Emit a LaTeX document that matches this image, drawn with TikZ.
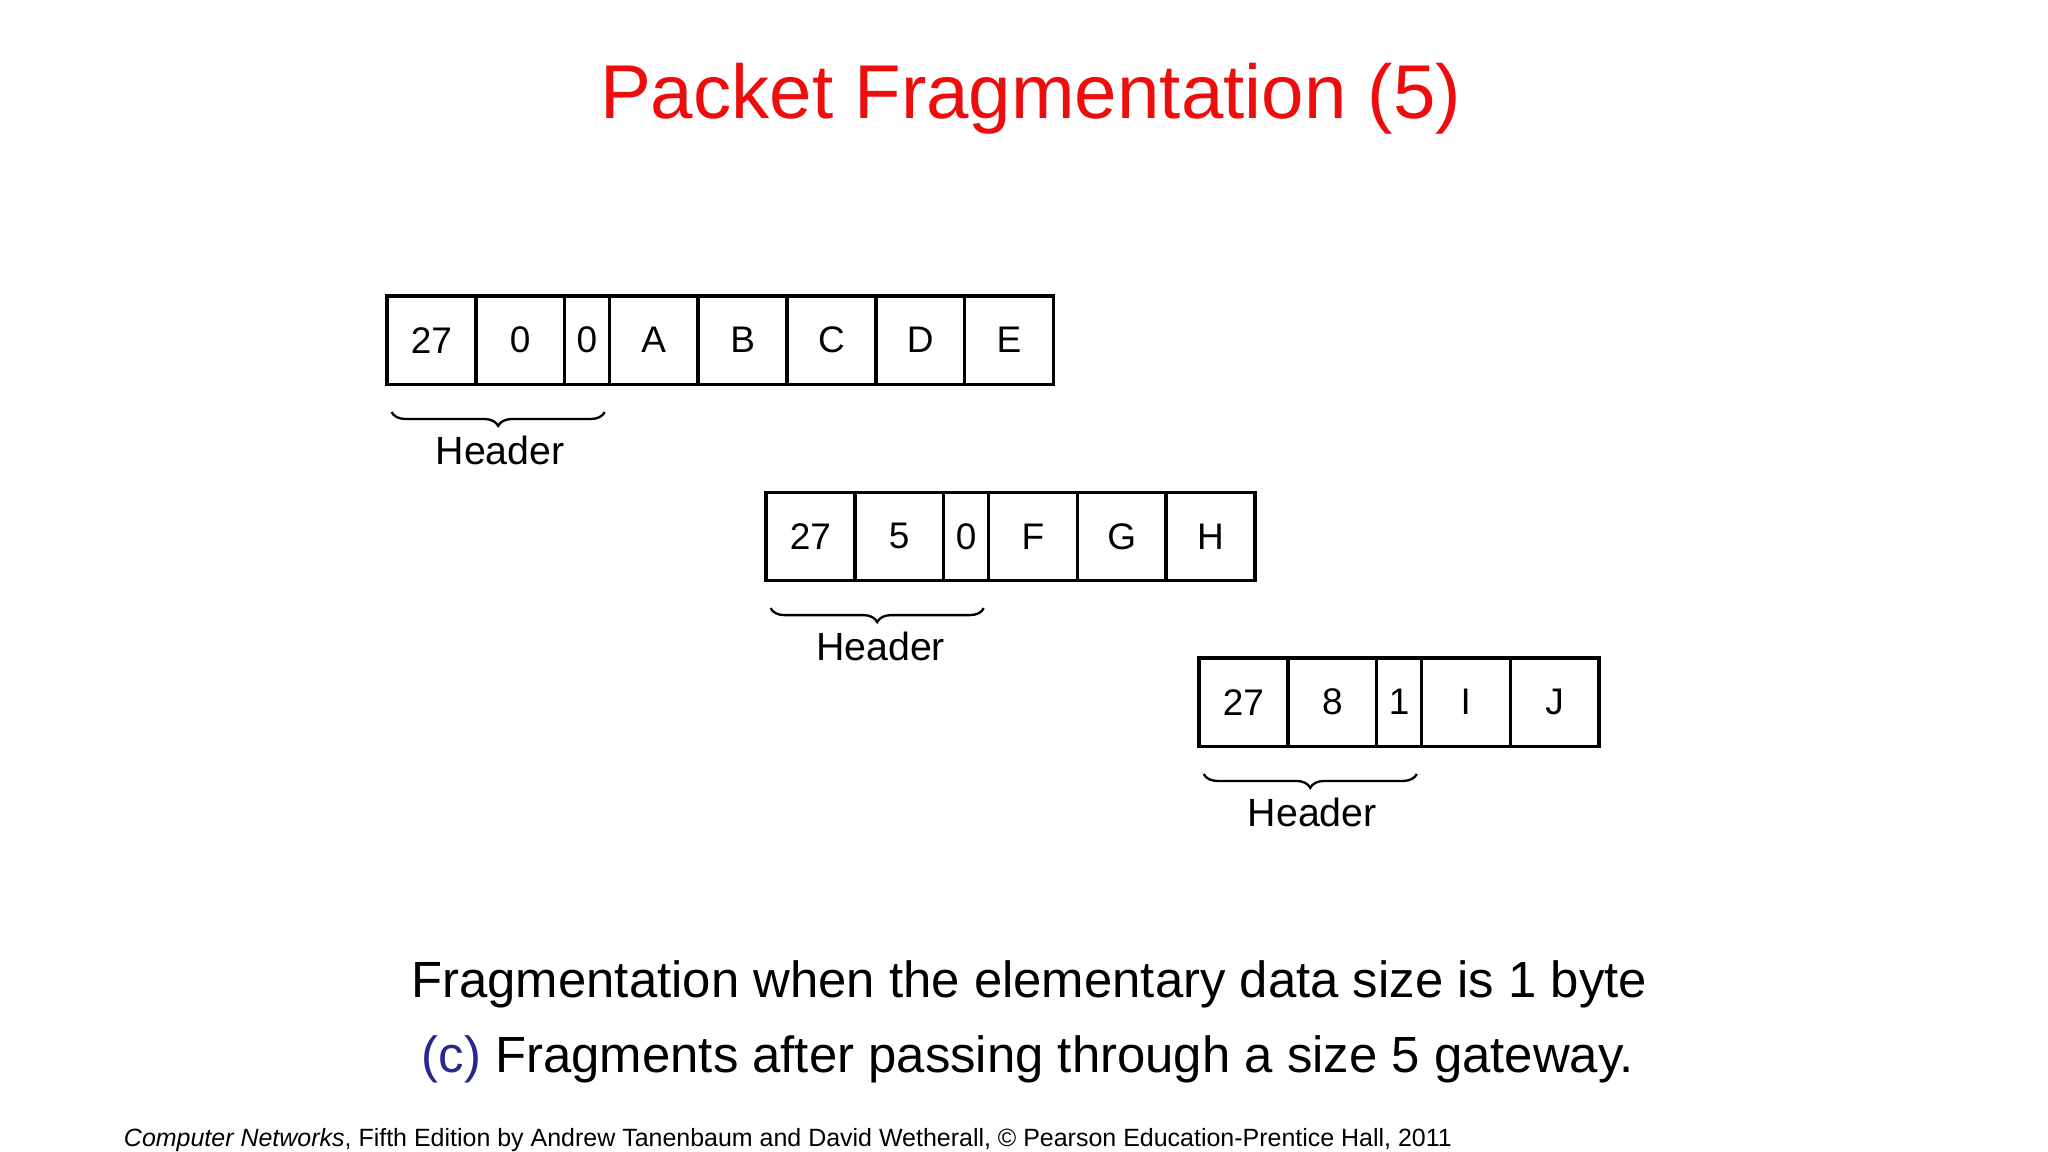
\documentclass[tikz,border=0pt]{standalone}
\usepackage{fontspec}
\setmainfont{Liberation Sans}
\usetikzlibrary{positioning,decorations.pathreplacing}
\definecolor{titlered}{rgb}{0.93,0.05,0.05}
\definecolor{labelblue}{rgb}{0.16,0.16,0.55}
\tikzset{
  cell/.style={draw,line width=1.5pt,outer sep=0pt,minimum width=1.35cm,minimum height=1.34cm,inner sep=0pt,font=\fontsize{16}{19}\selectfont},
  thin cell/.style={cell,minimum width=0.68cm},
  hbrace/.style={decorate,decoration={brace,mirror,amplitude=6pt},line width=1pt},
  hlabel/.style={font=\fontsize{17}{20}\selectfont}
}
\begin{document}
\begin{tikzpicture}[x=0.02cm,y=-0.02cm]
\useasboundingbox (0,0) rectangle (1556,875.25);
\node[text=titlered,font=\fontsize{33}{38}\selectfont] (title) at (783,75) {Packet Fragmentation (5)};
% first fragment
\node[cell,anchor=north west] (a1) at (294,225) {27};
\node[cell,right=0pt of a1] (a2) {0};
\node[thin cell,right=0pt of a2] (a3) {0};
\node[cell,right=0pt of a3] (a4) {A};
\node[cell,right=0pt of a4] (a5) {B};
\node[cell,right=0pt of a5] (a6) {C};
\node[cell,right=0pt of a6] (a7) {D};
\node[cell,right=0pt of a7] (a8) {E};
\draw[hbrace] ([xshift=2pt,yshift=-12pt]a1.south west) -- ([xshift=-2pt,yshift=-12pt]a3.south east);
\node[hlabel] (ha) at (380,342) {Header};
% second fragment
\node[cell,anchor=north west] (b1) at (582,374) {27};
\node[cell,right=0pt of b1] (b2) {5};
\node[thin cell,right=0pt of b2] (b3) {0};
\node[cell,right=0pt of b3] (b4) {F};
\node[cell,right=0pt of b4] (b5) {G};
\node[cell,right=0pt of b5] (b6) {H};
\draw[hbrace] ([xshift=2pt,yshift=-12pt]b1.south west) -- ([xshift=-2pt,yshift=-12pt]b3.south east);
\node[hlabel] (hb) at (669,491) {Header};
% third fragment
\node[cell,anchor=north west] (c1) at (911,500) {27};
\node[cell,right=0pt of c1] (c2) {8};
\node[thin cell,right=0pt of c2] (c3) {1};
\node[cell,right=0pt of c3] (c4) {I};
\node[cell,right=0pt of c4] (c5) {J};
\draw[hbrace] ([xshift=2pt,yshift=-12pt]c1.south west) -- ([xshift=-2pt,yshift=-12pt]c3.south east);
\node[hlabel] (hc) at (997,617) {Header};
% caption
\node[font=\fontsize{22}{26}\selectfont] (cap1) at (782,748) {Fragmentation when the elementary data size is 1 byte};
\node[font=\fontsize{22}{26}\selectfont] (cap2) at (781,805) {\textcolor{labelblue}{(c)} Fragments after passing through a size 5 gateway.};
\node[font=\fontsize{10.8}{13}\selectfont,anchor=west] (foot) at (88,866) {\textit{Computer Networks}, Fifth Edition by Andrew Tanenbaum and David Wetherall, © Pearson Education-Prentice Hall, 2011};
\end{tikzpicture}
\end{document}
